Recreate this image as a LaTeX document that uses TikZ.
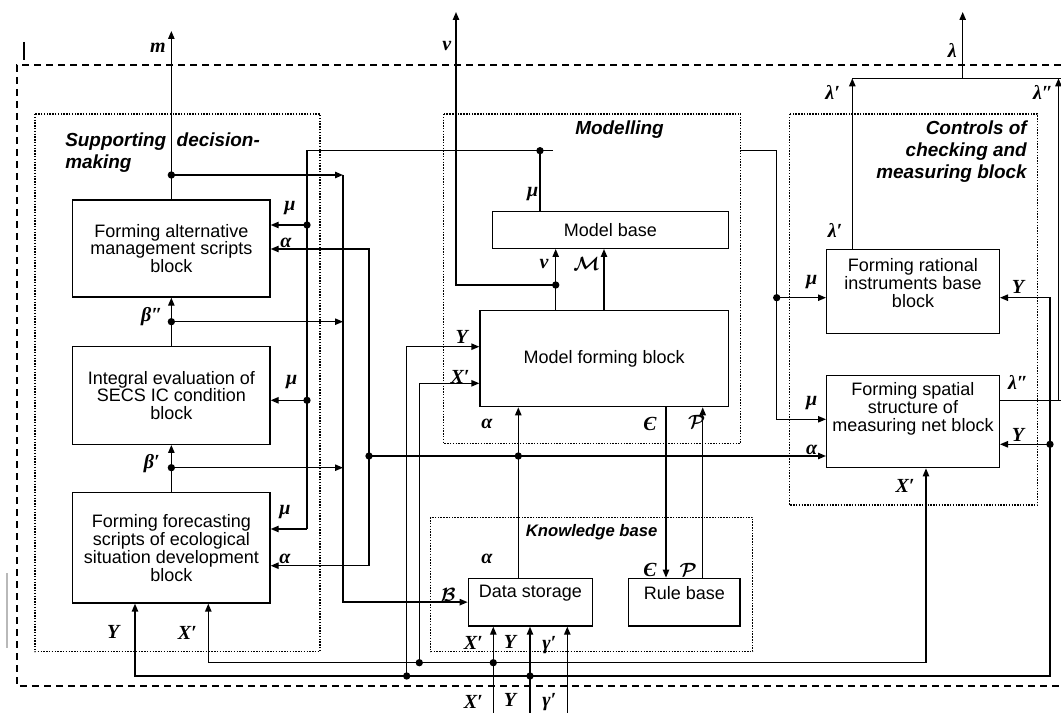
\documentclass[tikz,border=0pt]{standalone}
\usepackage{fontspec}
\usepackage{bm}
\setmainfont{Liberation Sans}
\newfontfamily\lblfont{Liberation Serif}
\usetikzlibrary{arrows.meta}
\begin{document}
\begin{tikzpicture}[x=0.75pt,y=-0.75pt,
  ln/.style={line width=1pt},
  arr/.style={ln,-{Triangle[length=6pt,width=4.8pt]}},
  darr/.style={ln,{Triangle[length=6pt,width=4.8pt]}-{Triangle[length=6pt,width=4.8pt]}},
  blk/.style={draw,line width=1pt,inner sep=0pt,align=center,font=\fontsize{13.5}{13.4}\selectfont},
  txt/.style={align=center,inner sep=0pt,font=\fontsize{13.5}{13.4}\selectfont},
  lb/.style={inner sep=0pt,font=\lblfont\bfseries\itshape\fontsize{15}{15}\selectfont},
  ttl/.style={inner sep=0pt,font=\bfseries\itshape\fontsize{14.2}{16}\selectfont},
  grp/.style={draw,densely dotted,line width=1.1pt},
  outer/.style={draw,line width=1pt,dash pattern=on 5.5pt off 3.5pt},
  dot/.style={circle,fill,inner sep=0pt,minimum size=5.5pt},
]
\useasboundingbox (0,0) rectangle (1061,713);

% frame and marks
\draw[outer] (1061,65) -- (17,65) -- (17,686) -- (1061,686);
\draw[line width=1.6pt] (24,42) -- (24,60);
\draw[gray!55,line width=1.2pt] (7,573) -- (7,648);

% groups
\draw[grp] (35,114) rectangle (320,651.7);
\draw[grp] (443.3,114) rectangle (740.7,443.3);
\draw[grp] (789.3,114) rectangle (1037.7,505);
\draw[grp] (430.7,517.3) rectangle (752.7,651.7);

\node[ttl,anchor=west,align=left] (T1) at (65,152.5) {Supporting\ \ decision-\\making};
\node[ttl] (T2) at (619.5,130) {Modelling};
\node[ttl,anchor=east,align=right,font=\bfseries\itshape\fontsize{14.2}{16.5}\selectfont] (T3) at (1027,152) {Controls of\\checking and\\measuring block};
\node[ttl,font=\bfseries\itshape\fontsize{12.5}{14}\selectfont] (T4) at (591.7,531.7) {Knowledge base};

% blocks
\node[blk,minimum width=148pt,minimum height=72.75pt] (A1) at (171.35,248.5) {Forming alternative\\management scripts\\block};
\node[blk,minimum width=148pt,minimum height=73.2pt] (A2) at (171.35,395.5) {Integral evaluation of\\SECS IC condition\\block};
\node[blk,minimum width=148pt,minimum height=82.7pt] (A3) at (171.35,547.85) {Forming forecasting\\scripts of ecological\\situation development\\block};
\node[blk,minimum width=176.7pt,minimum height=27.5pt] (MB) at (610.5,230) {Model base};
\node[blk,minimum width=186.2pt,minimum height=72pt] (MF) at (604.15,358.7) {Model forming block};
\node[blk,minimum width=93pt,minimum height=35.8pt] (DS) at (530.3,602.15) {};
\node[txt] (DSt) at (530.3,593) {Data storage};
\node[blk,minimum width=83.5pt,minimum height=35.8pt] (RB) at (684.35,602.15) {};
\node[txt] (RBt) at (684.35,593) {Rule base};
\node[blk,minimum width=129.5pt,minimum height=63pt] (FR) at (913,291.3) {};
\node[txt] (FRt) at (913,283) {Forming rational\\instruments base\\block};
\node[blk,minimum width=129.5pt,minimum height=69pt] (FS) at (913,421.7) {};
\node[txt] (FSt) at (913,408.7) {Forming spatial\\structure of\\measuring net block};

% left column chain
\coordinate (jm) at (171.35,175);
\coordinate (jb2) at (171.35,321.7);
\coordinate (jb1) at (171.35,467.7);
\coordinate (mTop) at (171.35,31);
\coordinate (busT) at (343,175);
\coordinate (busB2) at (343,321.7);
\coordinate (busB1) at (343,467.7);
\draw[arr] (A1.north) -- (mTop);
\draw[arr] (jm) -- (busT);
\draw[arr] (busT) |- (DS.west);
\draw[arr] (A2.north) -- (A1.south);
\draw[arr] (jb2) -- (busB2);
\draw[arr] (A3.north) -- (A2.south);
\draw[arr] (jb1) -- (busB1);

% mu bus
\coordinate (muE) at (553,150.7);
\coordinate (muC) at (307,150.7);
\coordinate (mu1) at (307,225);
\coordinate (mu2) at (307,400.3);
\coordinate (mu3) at (307,529);
\coordinate (muMB) at (540,150.7);
\draw[ln] (muE) -- (muC) -- (mu3);
\draw[arr] (mu3) -- (A3.east |- mu3);
\draw[arr] (mu1) -- (A1.east |- mu1);
\draw[arr] (mu2) -- (A2.east |- mu2);
\draw[ln] (MB.north -| muMB) -- (muMB);

% alpha
\coordinate (alL) at (369,456);
\coordinate (alD) at (518.3,456);
\coordinate (al1) at (369,249);
\coordinate (al3) at (369,565.7);
\draw[arr] (alL) -- (FS.west |- alL);
\draw[arr] (alL) |- (A1.east |- al1);
\draw[arr] (alL) |- (A3.east |- al3);
\draw[arr] (DS.north -| alD) -- (MF.south -| alD);

% Y and X' into model forming
\coordinate (ydot) at (406.7,676);
\coordinate (xdot) at (419.3,662.7);
\coordinate (yin) at (406.7,346.7);
\coordinate (xin) at (419.3,383.3);
\draw[arr] (ydot) -- (yin) -- (MF.west |- yin);
\draw[arr] (xdot) -- (xin) -- (MF.west |- xin);

% bottom buses
\coordinate (xbL) at (208.3,662.7);
\coordinate (xbR) at (926,662.7);
\coordinate (ybL) at (135,676);
\coordinate (ybR) at (1050,676);
\coordinate (yFR) at (1050,297.7);
\coordinate (yFS) at (1050,444.3);
\draw[darr] (A3.south -| xbL) -- (xbL) -- (xbR) -- (FS.south -| xbR);
\draw[darr] (A3.south -| ybL) -- (ybL) -- (ybR) -- (yFR) -- (FR.east |- yFR);
\draw[arr] (yFS) -- (FS.east |- yFS);

% data storage inputs
\coordinate (dx) at (493.3,713);
\coordinate (dy) at (530,713);
\coordinate (dg) at (567.3,713);
\draw[arr] (dx) -- (DS.south -| dx);
\draw[arr] (dy) -- (DS.south -| dy);
\draw[arr] (dg) -- (DS.south -| dg);

% v and M
\coordinate (vj) at (555.7,285);
\coordinate (vtop) at (456,12);
\coordinate (Mx) at (604,280);
\draw[arr] (MF.north -| vj) -- (MB.south -| vj);
\draw[arr] (vj) -| (vtop);
\draw[arr] (MF.north -| Mx) -- (MB.south -| Mx);

% E and P
\coordinate (Ex) at (666,500);
\coordinate (Px) at (702.7,500);
\draw[arr] (MF.south -| Ex) -- (RB.north -| Ex);
\draw[arr] (RB.north -| Px) -- (MF.south -| Px);

% mu to controls
\coordinate (mcA) at (740.7,150.7);
\coordinate (mcB) at (776.7,150.7);
\coordinate (mcD) at (776.7,297.7);
\coordinate (mcE) at (776.7,419.3);
\draw[arr] (mcA) -- (mcB) -- (mcE) -- (FS.west |- mcE);
\draw[arr] (mcD) -- (FR.west |- mcD);

% lambda
\coordinate (lj1) at (852.3,78.3);
\coordinate (lj) at (962.7,78.3);
\coordinate (lR) at (1061,78.3);
\coordinate (l2c) at (1058.5,78.3);
\coordinate (l2b) at (1058.5,400.7);
\coordinate (l2e) at (1061,400.7);
\coordinate (ltop) at (962.7,12);
\draw[arr] (FR.north -| lj1) -- (lj1);
\draw[ln] (lj1) -- (lR);
\draw[arr] (lj) -- (ltop);
\draw[ln] (FS.east |- l2b) -- (l2e);
\draw[arr] (l2b) -- (l2c);

% dots
\node[dot] (d1) at (jm) {};
\node[dot] (d2) at (jb2) {};
\node[dot] (d3) at (jb1) {};
\node[dot] (d4) at (mu1) {};
\node[dot] (d5) at (mu2) {};
\node[dot] (d6) at (muMB) {};
\node[dot] (d7) at (alL) {};
\node[dot] (d8) at (alD) {};
\node[dot] (d9) at (vj) {};
\node[dot] (d10) at (xdot) {};
\node[dot] (d11) at (ydot) {};
\node[dot] (d12) at (493.3,662.7) {};
\node[dot] (d13) at (530,676) {};
\node[dot] (d14) at (mcD) {};
\node[dot] (d15) at (yFS) {};

% labels
\node[lb] (Lm) at (158,48) {m};
\node[lb] (Lv1) at (446.7,45.7) {v};
\node[lb] (Ll) at (952.3,50) {λ};
\node[lb] (Ll1) at (832.7,92) {λ′};
\node[lb] (Ll2) at (1043,92) {λ″};
\node[lb] (Ll1b) at (835,230) {λ′};
\node[lb] (Lmu5) at (811.7,281.7) {μ};
\node[lb] (LY3) at (1018,287) {Y};
\node[lb] (Ll2b) at (1018,382.7) {λ″};
\node[lb] (Lmu6) at (811.7,402.7) {μ};
\node[lb] (La4) at (811.7,450) {α};
\node[lb] (LY4) at (1018,435) {Y};
\node[lb] (LX4) at (905,485.7) {X′};
\node[lb] (Lmu4) at (532.7,194.3) {μ};
\node[lb] (Lv2) at (544,264.3) {v};
\node[lb] (LM) at (586.7,264.3) {$\bm{\mathcal{M}}$};
\node[lb] (LY2) at (461.7,337.3) {Y};
\node[lb] (LX2) at (460,376.7) {X′};
\node[lb] (La2) at (487,424) {α};
\node[lb] (LE1) at (650,424) {Є};
\node[lb] (LP1) at (696.7,421.7) {$\bm{\mathcal{P}}$};
\node[lb] (La3) at (487,559.3) {α};
\node[lb] (LE2) at (650,570) {Є};
\node[lb] (LP2) at (688.3,570) {$\bm{\mathcal{P}}$};
\node[lb] (LB) at (448.3,595) {$\bm{\mathcal{B}}$};
\node[lb] (LXd) at (473.3,643.3) {X′};
\node[lb] (LYd) at (510,642) {Y};
\node[lb] (Lgd) at (549.3,645) {γ′};
\node[lb] (LXb) at (473.3,702) {X′};
\node[lb] (LYb) at (510,700) {Y};
\node[lb] (Lgb) at (549.3,702) {γ′};
\node[lb] (Lmu1) at (290,208.3) {μ};
\node[lb] (La1) at (286,243.3) {α};
\node[lb] (Lb2) at (151.7,316.7) {β″};
\node[lb] (Lmu2) at (291.7,381.7) {μ};
\node[lb] (Lb1) at (151.7,463.3) {β′};
\node[lb] (Lmu3) at (285,511.7) {μ};
\node[lb] (La5) at (285,559.3) {α};
\node[lb] (LY1) at (113.3,631.7) {Y};
\node[lb] (LX1) at (187.3,633.3) {X′};
\end{tikzpicture}
\end{document}
